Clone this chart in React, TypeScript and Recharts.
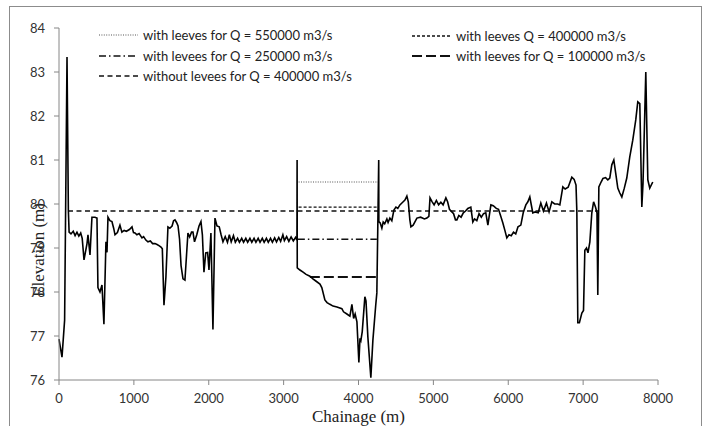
import React from 'react';
import { LineChart, Line, XAxis, YAxis } from 'recharts';

// ---- data ----
const chainage: number[] = [
  0, 40, 75, 107, 125, 135, 160, 190, 215, 240, 265, 290, 310, 334, 374, 387, 414, 440, 480, 507,
  520, 547, 574, 600, 627, 641, 654, 680, 707, 730, 748, 780, 814, 840, 870, 900, 940, 975, 995, 1015,
  1040, 1070, 1108, 1130, 1160, 1188, 1220, 1250, 1282, 1310, 1340, 1362, 1380, 1402, 1428, 1455, 1480, 1510, 1530, 1549,
  1570, 1590, 1610, 1630, 1656, 1682, 1722, 1745, 1770, 1789, 1810, 1840, 1870, 1896, 1915, 1936, 1960, 1985, 2003, 2029,
  2056, 2083, 2110, 2140, 2165, 2190,
  2220, 2250, 2275, 2300, 2330, 2355, 2385, 2410, 2440, 2465, 2495, 2520, 2550, 2575, 2605, 2630, 2660, 2685, 2715, 2740,
  2770, 2795, 2825, 2850, 2880, 2905, 2935, 2960, 2990, 3010, 3040, 3070, 3100, 3130, 3160, 3178,
  3180, 3182, 3218, 3260, 3300, 3351, 3391, 3430, 3485, 3510, 3551, 3580, 3618, 3660, 3712, 3778, 3800, 3845, 3885, 3912,
  3935, 3955, 3979, 4005, 4020, 4032, 4050, 4085, 4100, 4125, 4165, 4192, 4230, 4245, 4258, 4270, 4272,
  4290, 4312, 4330, 4350, 4379, 4395, 4419, 4445, 4473, 4500, 4525, 4553, 4590, 4620, 4646, 4665, 4686, 4700, 4730, 4780,
  4830, 4880, 4913, 4940, 4955, 4980, 5010, 5040, 5070, 5100, 5130, 5167, 5190, 5215, 5247, 5270, 5295, 5314, 5340, 5370,
  5400, 5430, 5460, 5500, 5527, 5550, 5580, 5610, 5640, 5670, 5700, 5728, 5768, 5800, 5840, 5870, 5900, 5928, 5955, 5981,
  6010, 6040, 6070, 6100, 6130, 6168, 6200, 6235, 6262, 6288, 6310, 6328, 6360, 6400, 6435, 6470, 6510, 6545, 6582, 6620,
  6660, 6689, 6729, 6760, 6800, 6849, 6880, 6905, 6916, 6929, 6950, 6983, 7005, 7023, 7045, 7065, 7090, 7116, 7140, 7165,
  7185, 7196, 7210, 7240, 7265, 7300, 7330, 7356, 7383, 7410, 7435, 7463, 7490, 7517, 7550, 7583, 7623, 7663, 7703, 7730,
  7757, 7784, 7800, 7837, 7850, 7864, 7890, 7930,
];

const elevation: number[] = [
  76.93, 76.52, 77.36, 83.34, 79.86, 79.36, 79.32, 79.38, 79.28, 79.36, 79.27, 79.34, 79.22, 78.73, 79.1, 79.3, 78.84, 79.7, 79.7, 79.68,
  78.1, 78.0, 78.16, 77.27, 79.14, 78.9, 79.7, 79.62, 79.6, 79.45, 79.3, 79.35, 79.52, 79.36, 79.4, 79.38, 79.42, 79.48, 79.35, 79.34,
  79.3, 79.33, 79.23, 79.26, 79.18, 79.14, 79.16, 79.1, 79.1, 79.08, 79.05, 79.02, 78.98, 77.7, 78.34, 79.48, 79.45, 79.5, 79.62, 79.64,
  79.58, 79.5, 79.2, 78.6, 78.3, 78.27, 79.34, 79.25, 79.36, 79.36, 79.14, 79.3, 79.5, 79.6, 79.3, 78.45, 78.89, 78.9, 78.5, 79.34,
  77.15, 79.68, 79.5, 79.48, 79.3, 79.14,
  79.26, 79.13, 79.3, 79.14, 79.28, 79.13, 79.22, 79.13, 79.22, 79.13, 79.22, 79.13, 79.22, 79.13, 79.22, 79.13, 79.22, 79.13, 79.22, 79.13,
  79.22, 79.13, 79.22, 79.13, 79.23, 79.14, 79.24, 79.15, 79.3, 79.17, 79.26, 79.15, 79.25, 79.16, 79.24, 79.18,
  81.0, 78.55, 78.5, 78.45, 78.4, 78.36, 78.3, 78.25, 78.18, 78.1, 77.82, 77.76, 77.72, 77.68, 77.66, 77.62, 77.55, 77.5, 77.45, 77.72,
  77.4, 77.5, 77.32, 76.4, 76.95, 76.9, 77.1, 77.89, 77.8, 76.98, 76.05, 76.9, 77.7, 77.98, 79.52, 81.0, 79.6,
  79.57, 79.45, 79.59, 79.55, 79.66, 79.58, 79.68, 79.62, 79.86, 79.93, 79.9, 79.98, 80.04, 80.09, 80.18, 80.05, 79.64, 79.48, 79.52, 79.68,
  79.7, 79.66, 79.68, 79.72, 80.14, 80.06, 79.98, 80.08, 79.98, 80.04, 79.98, 80.14, 80.05, 79.88, 79.82, 79.78, 79.64, 79.64, 79.74, 79.7,
  79.8, 79.84, 79.9, 79.93, 79.59, 79.66, 79.62, 79.78, 79.7, 79.78, 79.8, 79.52, 79.98, 79.96, 79.9, 79.88, 79.72, 79.57, 79.4, 79.23,
  79.3, 79.28, 79.36, 79.32, 79.48, 79.52, 79.8, 79.98, 80.05, 80.16, 79.96, 79.8, 79.82, 79.8, 80.02, 79.84, 80.02, 79.82, 80.05, 80.0,
  80.0, 79.98, 80.39, 80.34, 80.38, 80.61, 80.56, 80.43, 79.84, 77.3, 77.3, 77.52, 77.58, 78.95, 79.0, 78.89, 79.14, 79.8, 80.05, 79.93,
  79.8, 77.93, 80.39, 80.5, 80.58, 80.6, 80.55, 80.59, 80.89, 81.0, 80.7, 80.36, 80.25, 80.16, 80.36, 80.59, 81.07, 81.45, 81.91, 82.32,
  82.28, 79.93, 80.48, 83.0, 81.8, 80.55, 80.36, 80.5,
];

const seriesNames: string[] = [
  'with leeves for Q = 550000 m3/s',
  'with leeves Q = 400000 m3/s',
  'with levees for Q = 250000 m3/s',
  'with leeves for Q = 100000 m3/s',
  'without levees for Q = 400000 m3/s',
];

const wl550X: number[] = [3200, 4270];
const wl550Y: number[] = [80.5, 80.5];
const wl400X: number[] = [3200, 4270];
const wl400Y: number[] = [79.93, 79.93];
const wl250X: number[] = [3190, 4245];
const wl250Y: number[] = [79.2, 79.2];
const wl100X: number[] = [3350, 4245];
const wl100Y: number[] = [78.34, 78.34];
const wlNoX: number[] = [120, 7200];
const wlNoY: number[] = [79.84, 79.84];

const xTicks: number[] = [0, 1000, 2000, 3000, 4000, 5000, 6000, 7000, 8000];
const yTicks: number[] = [76, 77, 78, 79, 80, 81, 82, 83, 84];

const toRows = (xs: number[], ys: number[]) => xs.map((x, i) => ({ x, y: ys[i] }));

const terrain = toRows(chainage, elevation);
const wl550 = toRows(wl550X, wl550Y);
const wl400 = toRows(wl400X, wl400Y);
const wl250 = toRows(wl250X, wl250Y);
const wl100 = toRows(wl100X, wl100Y);
const wlNo = toRows(wlNoX, wlNoY);

const styles = [
  { dash: '1 1.4', width: 1.2, color: '#555' },
  { dash: '3 2', width: 1.4, color: '#111' },
  { dash: '7 3 1.5 3', width: 1.4, color: '#111' },
  { dash: '10 4', width: 2, color: '#111' },
  { dash: '5 3.5', width: 1.5, color: '#111' },
];

const legendPos = [
  { left: 99, top: 35 },
  { left: 412, top: 36 },
  { left: 99, top: 55.5 },
  { left: 412, top: 55.5 },
  { left: 99, top: 76 },
];

const tickFont = { fontFamily: 'Lato, "Open Sans", sans-serif', fontSize: 13, fill: '#333' };

export default function App() {
  return (
    <div style={{ position: 'absolute', left: 0, top: 0, width: 707, height: 426, overflow: 'hidden', background: '#fff' }}>
      <div
        style={{
          position: 'absolute', left: 9, top: 6, width: 693, height: 440,
          border: '1px solid #8c8c8c', boxSizing: 'border-box',
        }}
      />
      <div style={{ position: 'absolute', left: 0, top: 0 }}>
        <LineChart width={707} height={426} margin={{ top: 28, right: 49, bottom: 16, left: 0 }}>
          <XAxis
            dataKey="x"
            type="number"
            domain={[0, 8000]}
            ticks={xTicks}
            allowDuplicatedCategory={false}
            height={30}
            stroke="#868686"
            tickSize={5}
            tickMargin={9}
            tick={tickFont}
            label={{
              value: 'Chainage (m)',
              position: 'insideBottom',
              offset: -12,
              style: { fontFamily: '"Liberation Serif", "DejaVu Serif", serif', fontSize: 17, fill: '#222' },
            }}
          />
          <YAxis
            type="number"
            domain={[76, 84]}
            ticks={yTicks}
            width={59}
            stroke="#868686"
            tickSize={5}
            tickMargin={9}
            tick={tickFont}
            label={() => (
              <text
                x={38}
                y={250}
                transform="rotate(-90 38 250)"
                textAnchor="middle"
                dominantBaseline="central"
                style={{ fontFamily: '"Liberation Serif", "DejaVu Serif", serif', fontSize: 17, fill: '#222' }}
              >
                Elevation (m)
              </text>
            )}
          />
          <Line data={wlNo} dataKey="y" name={seriesNames[4]} stroke={styles[4].color} strokeWidth={styles[4].width} strokeDasharray={styles[4].dash} dot={false} isAnimationActive={false} />
          <Line data={wl550} dataKey="y" name={seriesNames[0]} stroke={styles[0].color} strokeWidth={styles[0].width} strokeDasharray={styles[0].dash} dot={false} isAnimationActive={false} />
          <Line data={wl400} dataKey="y" name={seriesNames[1]} stroke={styles[1].color} strokeWidth={styles[1].width} strokeDasharray={styles[1].dash} dot={false} isAnimationActive={false} />
          <Line data={wl250} dataKey="y" name={seriesNames[2]} stroke={styles[2].color} strokeWidth={styles[2].width} strokeDasharray={styles[2].dash} dot={false} isAnimationActive={false} />
          <Line data={wl100} dataKey="y" name={seriesNames[3]} stroke={styles[3].color} strokeWidth={styles[3].width} strokeDasharray={styles[3].dash} dot={false} isAnimationActive={false} />
          <Line data={terrain} dataKey="y" name="Ground" stroke="#000" strokeWidth={1.6} dot={false} isAnimationActive={false} />
        </LineChart>
      </div>
      {seriesNames.map((name, i) => (
        <div
          key={name}
          style={{
            position: 'absolute', left: legendPos[i].left, top: legendPos[i].top - 9, height: 18,
            display: 'flex', alignItems: 'center', whiteSpace: 'nowrap',
          }}
        >
          <svg width={40} height={18} style={{ display: 'block' }}>
            <line x1={0} y1={9} x2={39} y2={9} stroke={styles[i].color} strokeWidth={styles[i].width} strokeDasharray={styles[i].dash} />
          </svg>
          <span style={{ marginLeft: 4, fontFamily: 'Lato, "Open Sans", sans-serif', fontSize: 13, color: '#222' }}>{name}</span>
        </div>
      ))}
    </div>
  );
}
